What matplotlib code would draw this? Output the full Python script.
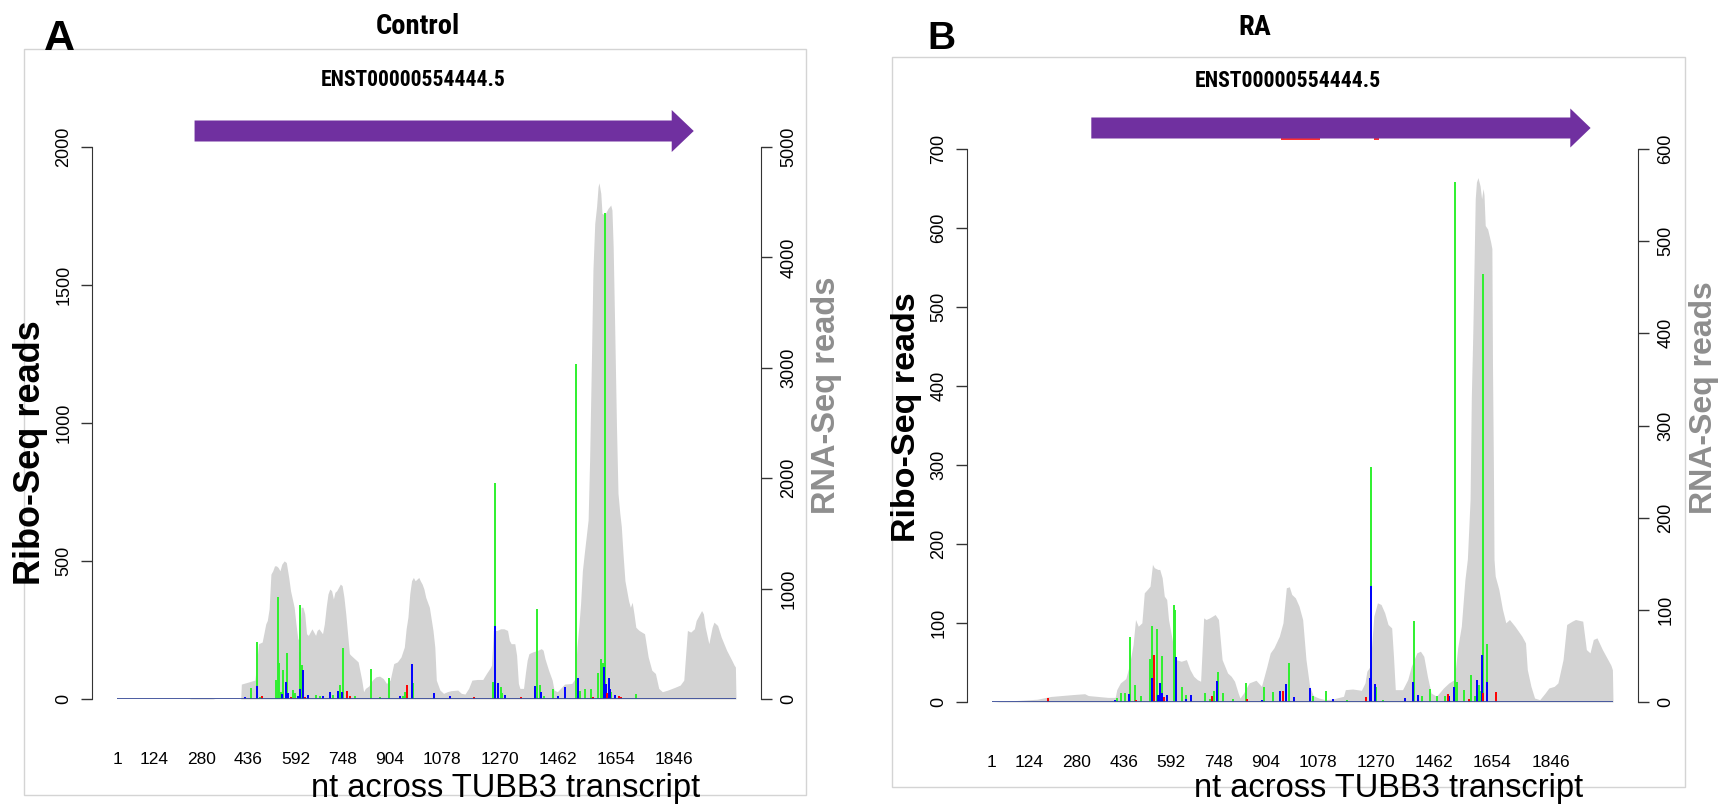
import matplotlib
matplotlib.use("Agg")
import matplotlib.pyplot as plt
from matplotlib import font_manager
from matplotlib.patches import Rectangle, FancyArrow

plt.rcParams['font.family'] = ['Liberation Sans', 'DejaVu Sans']

# ---------------------------------------------------------------- data
TRANSCRIPT_LEN = 2052
TICK_NT = [1, 124, 280, 436, 592, 748, 904, 1078, 1270, 1462, 1654, 1846]
TICK_LABELS = [str(t) for t in TICK_NT]

# Control: RNA-Seq coverage
ctrl_rna_nt = [1, 240, 250, 310, 326, 411, 413, 458, 470, 482, 494, 499, 505, 511, 517, 523, 529,
               535, 541, 547, 555, 562, 570, 576, 582, 588, 594, 600, 606, 611, 617, 623, 629,
               635, 641, 647, 653, 659, 664, 670, 682, 688, 694, 700, 706, 712, 718, 723, 729,
               735, 741, 747, 753, 759, 765, 771, 776, 788, 800, 812, 818, 824, 835, 847, 859,
               871, 883, 894, 906, 918, 930, 942, 953, 959, 965, 971, 977, 983, 989, 995, 1001,
               1006, 1012, 1018, 1024, 1036, 1048, 1054, 1059, 1071, 1083, 1095, 1107, 1130,
               1142, 1154, 1166, 1177, 1195, 1213, 1225, 1236, 1242, 1248, 1260, 1272, 1283,
               1295, 1301, 1307, 1319, 1325, 1331, 1336, 1348, 1354, 1360, 1366, 1378, 1395,
               1407, 1413, 1419, 1431, 1443, 1449, 1460, 1484, 1508, 1519, 1525, 1531, 1537,
               1543, 1549, 1562, 1567, 1573, 1578, 1584, 1590, 1595, 1598, 1604, 1608, 1617,
               1628, 1637, 1641, 1645, 1650, 1656, 1661, 1667, 1672, 1678, 1684, 1696, 1702,
               1708, 1714, 1720, 1725, 1731, 1749, 1761, 1773, 1785, 1796, 1808, 1826, 1849,
               1867, 1879, 1891, 1902, 1914, 1920, 1932, 1938, 1944, 1950, 1962, 1973, 1979,
               1991, 2003, 2021, 2038, 2046, 2050, 2052]
ctrl_rna_reads = [0, 0, 10, 10, 0, 0, 135, 171, 501, 516, 681, 711, 816, 1131, 1161, 1206, 1206,
                  1191, 1161, 1221, 1251, 1236, 1101, 981, 906, 831, 681, 546, 531, 831, 831, 771, 591,
                  576, 606, 636, 606, 576, 621, 636, 591, 681, 831, 951, 996, 981, 906, 966, 981,
                  1011, 1041, 1026, 921, 771, 591, 411, 396, 366, 336, 171, 66, 96, 117, 171, 201,
                  207, 186, 141, 171, 321, 336, 381, 471, 636, 741, 951, 1071, 1101, 1071, 1086, 1101,
                  1071, 1041, 996, 921, 831, 621, 471, 171, 81, 51, 66, 75, 81,
                  51, 45, 96, 171, 177, 177, 231, 276, 306, 621, 621, 636, 636,
                  621, 531, 501, 501, 396, 141, 96, 96, 231, 351, 411, 426, 441,
                  456, 441, 366, 261, 171, 81, 66, 135, 141, 186, 471, 651, 861,
                  1161, 1311, 1622, 2166, 3071, 3886, 4308, 4459, 4640, 4676, 4580, 4399, 4384,
                  4444, 4474, 4429, 4097, 3373, 2467, 1864, 1683, 1562, 1300, 1071, 891, 831,
                  876, 771, 651, 636, 621, 591, 381, 261, 231, 96, 66, 81, 105,
                  126, 171, 621, 606, 636, 711, 771, 801, 771, 651, 501, 651, 696,
                  666, 561, 441, 351, 306, 290, 0]

# Control: Ribo-Seq reads per reading frame
ctrl_f1_nt = [482, 577, 623, 762, 773, 963, 1183, 1338, 1577, 1625, 1663, 1672]
ctrl_f1_reads = [10, 8, 9, 30, 12, 51, 6, 6, 6, 21, 11, 8]
ctrl_f2_nt = [446, 464, 476, 529, 535, 538, 545, 552, 565, 585, 591, 606, 608, 615, 659, 674,
              716, 739, 750, 788, 843, 871, 903, 949, 956, 983, 1248, 1254, 1272, 1278, 1392,
              1404, 1416, 1446, 1523, 1535, 1552, 1572, 1596, 1604, 1610, 1617, 1631, 1639, 1722]
ctrl_f2_reads = [39, 208, 8, 69, 369, 129, 25, 105, 166, 33, 20, 172, 341, 123, 15, 12,
                 14, 51, 184, 10, 108, 8, 77, 12, 27, 57, 63, 782, 45, 20, 325,
                 51, 12, 35, 1215, 30, 35, 35, 96, 144, 132, 1760, 69, 25, 17]
ctrl_f3_nt = [426, 464, 548, 560, 568, 600, 608, 617, 635, 685, 706, 733, 747, 939, 979, 1051,
              1103, 1254, 1263, 1287, 1387, 1405, 1463, 1487, 1529, 1614, 1622, 1631, 1634, 1650]
ctrl_f3_reads = [8, 47, 18, 63, 21, 12, 35, 105, 15, 10, 27, 30, 27, 10, 127, 21,
                 11, 265, 59, 15, 47, 27, 12, 45, 75, 117, 54, 77, 35, 14]

# RA: RNA-Seq coverage
ra_rna_nt = [1, 150, 195, 266, 307, 319, 384, 408, 413, 425, 443, 455, 467, 475, 484, 496, 504,
             514, 523, 531, 537, 549, 555, 563, 570, 578, 584, 596, 608, 626, 643, 655, 667,
             679, 690, 700, 708, 720, 738, 749, 761, 779, 791, 802, 814, 820, 832, 850, 873,
             891, 909, 920, 932, 950, 962, 973, 983, 991, 1003, 1015, 1027, 1038, 1050, 1062,
             1080, 1103, 1127, 1139, 1162, 1168, 1192, 1221, 1233, 1239, 1250, 1262, 1274,
             1286, 1298, 1309, 1321, 1327, 1333, 1357, 1374, 1386, 1404, 1416, 1427, 1439,
             1451, 1469, 1492, 1510, 1528, 1539, 1551, 1563, 1571, 1580, 1584, 1589, 1593,
             1597, 1601, 1606, 1613, 1618, 1623, 1626, 1630, 1638, 1643, 1648, 1652, 1654,
             1657, 1659, 1663, 1675, 1687, 1698, 1710, 1728, 1751, 1763, 1769, 1781, 1793,
             1810, 1828, 1840, 1858, 1870, 1887, 1899, 1917, 1928, 1952, 1964, 1976, 1987,
             1999, 2017, 2035, 2045, 2050, 2052]
ra_rna_reads = [0, 3, 6, 8, 9, 7, 5, 5, 13.4, 20.7, 25.4, 40.6, 62.3, 89.5, 82.2, 85.9, 118.5,
                122.1, 125.7, 149.3, 145.7, 143.8, 143.8, 134.8, 114.9, 111.2, 89.5, 67.8, 46, 44.2, 46, 35.1, 27.9,
                24.3, 22.5, 91.3, 89.5, 91.3, 94.9, 89.5, 46, 31.5, 27.9, 22.5, 9.8, 4.3, 9.8, 20.7, 23.6,
                17, 38.8, 53.3, 58.7, 71.4, 85.9, 123.9, 125, 116.7, 113, 104, 89.5, 46, 17, 6.9,
                4.3, 2.5, 3.3, 4.3, 6.2, 13.4, 14.1, 12.7, 20.7, 33.3, 38.8, 93.1, 107.6,
                105.8, 96.7, 84.1, 80.4, 49.6, 13.4, 13.4, 24.3, 38.8, 53.3, 55.1, 49.6, 27.9,
                9.8, 6.2, 15.2, 20.7, 24.3, 58.7, 82.2, 133, 155, 220, 329, 401, 473,
                546, 564, 569, 560, 546, 557, 550, 517, 513, 506, 499, 492, 365,
                256, 155, 136.6, 122.1, 100.4, 85.9, 89.5, 82.2, 71.4, 64.1, 35.1, 17, 4.3,
                2.5, 9.8, 15.2, 17, 20.7, 46, 84.1, 87.7, 89.5, 87.7, 56.9, 53.3, 67.8,
                69.6, 56.9, 46, 40, 35, 0]

# RA: Ribo-Seq reads per reading frame
ra_f1_nt = [187, 476, 535, 569, 728, 844, 962, 1235, 1507, 1577, 1624, 1667]
ra_f1_reads = [5, 2, 59, 6, 8, 4, 14, 6, 10, 4, 11, 13]
ra_f2_nt = [413, 428, 439, 458, 474, 492, 524, 529, 537, 545, 561, 602, 604, 630, 641, 706, 720,
            733, 747, 764, 797, 841, 900, 929, 973, 981, 1060, 1103, 1174, 1254, 1270, 1292,
            1395, 1421, 1449, 1471, 1498, 1529, 1536, 1559, 1584, 1595, 1608, 1616, 1623, 1636]
ra_f2_reads = [5, 11, 11, 82, 21, 7, 54, 96, 11, 92, 58, 123, 117, 19, 9, 11, 4,
               14, 38, 11, 4, 24, 19, 13, 23, 50, 7, 14, 2, 297, 19, 3,
               102, 7, 16, 7, 7, 658, 25, 15, 34, 7, 22, 14, 542, 73]
ra_f3_nt = [408, 452, 531, 549, 555, 563, 580, 610, 643, 659, 744, 894, 953, 973, 997, 1051,
            1127, 1251, 1254, 1265, 1365, 1390, 1407, 1512, 1527, 1604, 1618, 1637]
ra_f3_reads = [3, 10, 30, 9, 24, 11, 9, 57, 4, 9, 26, 2, 14, 23, 6, 18,
               4, 31, 147, 23, 5, 25, 9, 7, 19, 28, 60, 25]
ra_marks_nt = [(955, 1084), (1262, 1280)]

# ---------------------------------------------------------------- styling
W, H = 1732, 806
GRAY_FILL = '#d3d3d3'
RED, GREEN, BLUE = '#ff0000', '#2ef02e', '#0000ff'
BASELINE = '#3d4f9a'
ARROW = '#7030a0'
AXIS_COL = '#333333'


def _heading_font():
    """Prefer a narrow/condensed bold face for the headings, if one is installed."""
    fonts = font_manager.fontManager.ttflist
    names = {f.name for f in fonts}
    for n in ['Liberation Sans Narrow', 'Roboto Condensed', 'Open Sans Condensed',
              'Noto Sans Condensed', 'DejaVu Sans Condensed']:
        if n in names:
            return dict(family=[n, 'DejaVu Sans'])
    for n in ['Noto Sans', 'Open Sans', 'DejaVu Sans', 'Roboto']:
        if any(f.name == n and str(f.stretch) in ('condensed', 'semi-condensed', '87.5', '75')
               for f in fonts):
            return dict(family=[n, 'DejaVu Sans'], fontstretch='condensed')
    return dict(family=['Liberation Sans', 'DejaVu Sans'])


HEAD_FONT = _heading_font()

fig = plt.figure(figsize=(W / 100, H / 100), dpi=100)
renderer = fig.canvas.get_renderer()


def rect(x0, y0, x1, y1):
    """Axes rectangle from a pixel box (y measured from the top)."""
    return [x0 / W, 1 - y1 / H, (x1 - x0) / W, (y1 - y0) / H]


def ftext(x, y, s, **kw):
    return fig.text(x / W, 1 - y / H, s, **kw)


def heading(x, y, s, width, max_size, ref=None):
    """Bold heading sized to a given pixel width (or to the size of `ref`)."""
    t = ftext(x, y, s, fontweight='bold', ha='center', va='baseline', fontsize=20, **HEAD_FONT)
    if ref is not None:
        t.set_fontsize(ref)
        return t.get_fontsize()
    w = t.get_window_extent(renderer=renderer).width
    size = min(20 * width / w, max_size)
    t.set_fontsize(size)
    return size


def panel(box, x0, x1, y_top, y_zero, rna_nt, rna_reads, frames, ribo_ticks, rna_ticks,
          arrow, letter, title, ylab, y2lab, xlab_pos, ens_pos, marks=(), title_size=None):
    # frame round the panel
    bx0, by0, bx1, by1 = box
    fig.add_artist(Rectangle((bx0 / W, 1 - by1 / H), (bx1 - bx0) / W, (by1 - by0) / H,
                             transform=fig.transFigure, fill=False, ec='#d4d4d4', lw=1.0))

    # RNA-Seq coverage on the right axis
    ax_r = fig.add_axes(rect(x0, y_top, x1, y_zero))
    ax_r.fill_between(rna_nt, rna_reads, color=GRAY_FILL, lw=0)
    ax_r.set_xlim(1, TRANSCRIPT_LEN)
    ax_r.set_ylim(0, rna_ticks[-1])
    ax_r.patch.set_visible(False)
    for s in ['top', 'left', 'bottom']:
        ax_r.spines[s].set_visible(False)
    ax_r.spines['right'].set_position(('outward', 18))
    ax_r.spines['right'].set_bounds(0, rna_ticks[-1])
    ax_r.spines['right'].set_color(AXIS_COL)
    ax_r.yaxis.tick_right()
    ax_r.set_yticks(rna_ticks)
    ax_r.tick_params(axis='y', direction='out', length=8, width=1.0, color=AXIS_COL,
                     labelsize=13, pad=6, labelrotation=90)
    plt.setp(ax_r.get_yticklabels(), va='center')
    ax_r.set_xticks([])

    # Ribo-Seq reads on the left axis, one colour per reading frame
    ax = fig.add_axes(rect(x0, y_top, x1, y_zero))
    ax.patch.set_visible(False)
    for (nts, reads), col in zip(frames, [GREEN, BLUE, RED]):
        ax.vlines(nts, 0, reads, colors=col, lw=1.4)
    ax.plot([1, TRANSCRIPT_LEN], [0, 0], color=BASELINE, lw=1.3, solid_capstyle='butt')
    ax.set_xlim(1, TRANSCRIPT_LEN)
    ax.set_ylim(0, ribo_ticks[-1])
    for s in ['top', 'right', 'bottom']:
        ax.spines[s].set_visible(False)
    ax.spines['left'].set_position(('outward', 18))
    ax.spines['left'].set_bounds(0, ribo_ticks[-1])
    ax.spines['left'].set_color(AXIS_COL)
    ax.set_yticks(ribo_ticks)
    ax.tick_params(axis='y', direction='out', length=8, width=1.0, color=AXIS_COL,
                   labelsize=13, pad=6, labelrotation=90)
    plt.setp(ax.get_yticklabels(), va='center')
    ax.set_xticks(TICK_NT, TICK_LABELS)
    ax.tick_params(axis='x', length=0, labelsize=12.5, pad=38)

    # transcript arrow
    a_start, a_head, a_tip, a_y, shaft, head = arrow
    ax_a = fig.add_axes(rect(x0, a_y - 30, x1, a_y + 30))
    ax_a.set_xlim(1, TRANSCRIPT_LEN)
    ax_a.set_ylim(-30, 30)
    ax_a.axis('off')
    for m0, m1 in marks:
        ax_a.add_patch(Rectangle((m0, -shaft / 2 - 1.2), m1 - m0, 8, color='#ff3030', lw=0))
    ax_a.add_patch(FancyArrow(a_start, 0, a_tip - a_start, 0, width=shaft, head_width=head,
                              head_length=a_tip - a_head, length_includes_head=True,
                              color=ARROW, lw=0))

    # labels
    ftext(letter[1], letter[2], letter[0], fontsize=letter[3], fontweight='bold',
          ha='left', va='baseline')
    size = heading(title[1], title[2], title[0], width=title[3], max_size=24, ref=title_size)
    heading(ens_pos[0], ens_pos[1], 'ENST00000554444.5', width=ens_pos[2], max_size=16)
    ftext(ylab[0], ylab[1], 'Ribo-Seq reads', fontsize=ylab[2], fontweight='bold',
          rotation=90, ha='center', va='center')
    ftext(y2lab[0], y2lab[1], 'RNA-Seq reads', fontsize=y2lab[2], fontweight='bold',
          color='#8e8e8e', rotation=90, ha='center', va='center')
    ftext(xlab_pos[0], xlab_pos[1], 'nt across TUBB3 transcript', fontsize=23.5,
          ha='center', va='baseline')
    return size


ctrl_title_size = panel(
    box=(24, 49, 806, 795), x0=117, x1=736, y_top=147, y_zero=699,
    rna_nt=ctrl_rna_nt, rna_reads=ctrl_rna_reads,
    frames=[(ctrl_f2_nt, ctrl_f2_reads), (ctrl_f3_nt, ctrl_f3_reads), (ctrl_f1_nt, ctrl_f1_reads)],
    ribo_ticks=[0, 500, 1000, 1500, 2000], rna_ticks=[0, 1000, 2000, 3000, 4000, 5000],
    arrow=(258, 1839, 1912, 131, 21, 42),
    letter=('A', 44, 50, 31), title=('Control', 418, 34, 84),
    ylab=(31, 453, 26), y2lab=(827, 395, 23.5), xlab_pos=(506, 797), ens_pos=(413, 86, 185))

panel(box=(892, 57, 1685, 787), x0=992, x1=1613, y_top=149, y_zero=702,
      rna_nt=ra_rna_nt, rna_reads=ra_rna_reads,
      frames=[(ra_f2_nt, ra_f2_reads), (ra_f3_nt, ra_f3_reads), (ra_f1_nt, ra_f1_reads)],
      ribo_ticks=[0, 100, 200, 300, 400, 500, 600, 700],
      rna_ticks=[0, 100, 200, 300, 400, 500, 600],
      arrow=(329, 1911, 1978, 128, 21, 39),
      letter=('B', 927, 49, 28), title=('RA', 1255, 35, 0),
      ylab=(907, 417, 24.5), y2lab=(1704, 398, 23), xlab_pos=(1389, 797),
      ens_pos=(1288, 87, 186), marks=ra_marks_nt, title_size=ctrl_title_size)

fig.savefig('out.png', dpi=100, facecolor='white')
